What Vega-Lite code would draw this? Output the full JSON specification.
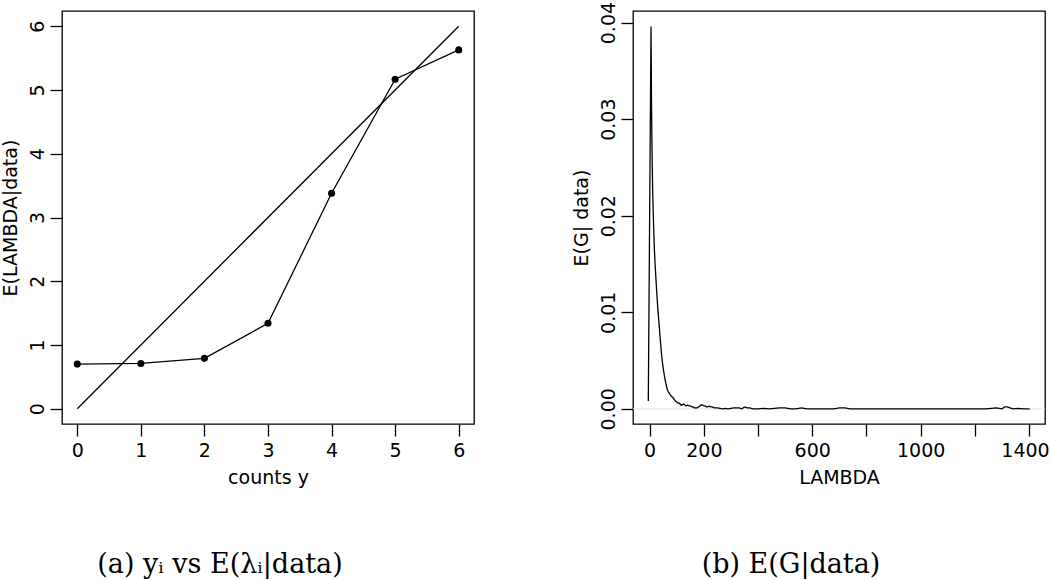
{
  "$schema": "https://vega.github.io/schema/vega-lite/v6.json",
  "background": "white",
  "padding": {"left": 0, "top": 0, "right": 5, "bottom": 0},
  "datasets": {
    "diag": [{"y": 0, "lambda": 0}, {"y": 6, "lambda": 6}],
    "means": [
      {"y": 0, "lambda": 0.70},
      {"y": 1, "lambda": 0.71},
      {"y": 2, "lambda": 0.79},
      {"y": 3, "lambda": 1.34},
      {"y": 4, "lambda": 3.38},
      {"y": 5, "lambda": 5.17},
      {"y": 6, "lambda": 5.63}
    ],
    "density": [
      {"lambda": -5, "g": 0.0008},
      {"lambda": 5, "g": 0.0396},
      {"lambda": 7, "g": 0.031},
      {"lambda": 9, "g": 0.0262},
      {"lambda": 11, "g": 0.0228},
      {"lambda": 14, "g": 0.0194},
      {"lambda": 17, "g": 0.0168},
      {"lambda": 20, "g": 0.0150},
      {"lambda": 26, "g": 0.0121},
      {"lambda": 30, "g": 0.0104},
      {"lambda": 35, "g": 0.0087},
      {"lambda": 40, "g": 0.0069},
      {"lambda": 45, "g": 0.0053},
      {"lambda": 50, "g": 0.0042},
      {"lambda": 55, "g": 0.0033},
      {"lambda": 60, "g": 0.0026},
      {"lambda": 65, "g": 0.0020},
      {"lambda": 70, "g": 0.0017},
      {"lambda": 75, "g": 0.0015},
      {"lambda": 80, "g": 0.0013},
      {"lambda": 85, "g": 0.0012},
      {"lambda": 90, "g": 0.0010},
      {"lambda": 95, "g": 0.0008},
      {"lambda": 100, "g": 0.0007},
      {"lambda": 105, "g": 0.0006},
      {"lambda": 110, "g": 0.0006},
      {"lambda": 115, "g": 0.0004},
      {"lambda": 120, "g": 0.0004},
      {"lambda": 125, "g": 0.0005},
      {"lambda": 130, "g": 0.0004},
      {"lambda": 135, "g": 0.0003},
      {"lambda": 140, "g": 0.0004},
      {"lambda": 145, "g": 0.0003},
      {"lambda": 150, "g": 0.0003},
      {"lambda": 155, "g": 0.0002},
      {"lambda": 160, "g": 0.0002},
      {"lambda": 165, "g": 0.0001},
      {"lambda": 170, "g": 0.0001},
      {"lambda": 175, "g": 0.0001},
      {"lambda": 180, "g": 0.0002},
      {"lambda": 185, "g": 0.0003},
      {"lambda": 190, "g": 0.0004},
      {"lambda": 195, "g": 0.0004},
      {"lambda": 200, "g": 0.0003},
      {"lambda": 205, "g": 0.0003},
      {"lambda": 210, "g": 0.0002},
      {"lambda": 215, "g": 0.0002},
      {"lambda": 220, "g": 0.0003},
      {"lambda": 225, "g": 0.0002},
      {"lambda": 230, "g": 0.0002},
      {"lambda": 240, "g": 0.0001},
      {"lambda": 250, "g": 0.0001},
      {"lambda": 260, "g": 0.00005},
      {"lambda": 270, "g": 0.0},
      {"lambda": 280, "g": 0.00005},
      {"lambda": 290, "g": 0.0},
      {"lambda": 300, "g": 0.00005},
      {"lambda": 310, "g": 0.0001},
      {"lambda": 320, "g": 0.0001},
      {"lambda": 330, "g": 0.0001},
      {"lambda": 340, "g": 0.0},
      {"lambda": 350, "g": 0.0002},
      {"lambda": 360, "g": 0.0001},
      {"lambda": 370, "g": 0.0001},
      {"lambda": 380, "g": 0.0},
      {"lambda": 400, "g": 0.0},
      {"lambda": 420, "g": 0.00005},
      {"lambda": 440, "g": 0.0},
      {"lambda": 460, "g": 0.00005},
      {"lambda": 480, "g": 0.0001},
      {"lambda": 500, "g": 0.0001},
      {"lambda": 520, "g": 0.0},
      {"lambda": 540, "g": 0.0},
      {"lambda": 560, "g": 0.0001},
      {"lambda": 580, "g": 0.0},
      {"lambda": 600, "g": 0.0},
      {"lambda": 640, "g": 0.0},
      {"lambda": 680, "g": 0.0},
      {"lambda": 700, "g": 0.0001},
      {"lambda": 720, "g": 0.0001},
      {"lambda": 740, "g": 0.0},
      {"lambda": 780, "g": 0.0},
      {"lambda": 820, "g": 0.0},
      {"lambda": 860, "g": 0.0},
      {"lambda": 900, "g": 0.0},
      {"lambda": 950, "g": 0.0},
      {"lambda": 1000, "g": 0.0},
      {"lambda": 1050, "g": 0.0},
      {"lambda": 1100, "g": 0.0},
      {"lambda": 1150, "g": 0.0},
      {"lambda": 1200, "g": 0.0},
      {"lambda": 1240, "g": 0.0},
      {"lambda": 1260, "g": 0.00005},
      {"lambda": 1280, "g": 0.0001},
      {"lambda": 1300, "g": 0.0},
      {"lambda": 1310, "g": 0.0002},
      {"lambda": 1320, "g": 0.0002},
      {"lambda": 1330, "g": 0.0001},
      {"lambda": 1340, "g": 0.0},
      {"lambda": 1360, "g": 0.00005},
      {"lambda": 1380, "g": 0.0},
      {"lambda": 1403, "g": 0.0}
    ]
  },
  "config": {
    "font": "DejaVu Sans",
    "view": {"stroke": "black", "strokeWidth": 1.3},
    "axis": {
      "domain": false,
      "grid": false,
      "ticks": true,
      "tickColor": "black",
      "tickWidth": 1.3,
      "tickSize": 12,
      "labelFont": "DejaVu Sans",
      "labelFontSize": 19,
      "labelColor": "black",
      "labelPadding": 4,
      "labelOverlap": false,
      "titleFont": "DejaVu Sans",
      "titleFontSize": 19,
      "titleFontWeight": "normal",
      "titleColor": "black"
    },
    "axisLeft": {"labelAngle": 270, "labelAlign": "center", "labelBaseline": "bottom", "titlePadding": 8, "labelPadding": 3},
    "axisBottom": {"titlePadding": 8, "labelPadding": 5}
  },
  "spacing": 96,
  "hconcat": [
    {
      "width": 412,
      "height": 413,
      "title": {
        "text": "(a) yᵢ vs E(λᵢ|data)",
        "orient": "bottom",
        "anchor": "middle",
        "font": "DejaVu Serif",
        "fontSize": 27,
        "fontWeight": "normal",
        "color": "black",
        "offset": 65,
        "dx": -48
      },
      "layer": [
        {
          "data": {"name": "diag"},
          "mark": {"type": "line", "color": "black", "strokeWidth": 1.3},
          "encoding": {
            "x": {"field": "y", "type": "quantitative", "scale": {"domain": [-0.24, 6.24], "nice": false, "zero": false}, "axis": {"values": [0, 1, 2, 3, 4, 5, 6], "format": "d", "title": "counts y"}},
            "y": {"field": "lambda", "type": "quantitative", "scale": {"domain": [-0.24, 6.24], "nice": false, "zero": false}, "axis": {"values": [0, 1, 2, 3, 4, 5, 6], "format": "d", "title": "E(LAMBDA|data)"}}
          }
        },
        {
          "data": {"name": "means"},
          "mark": {"type": "line", "color": "black", "strokeWidth": 1.3, "point": {"filled": true, "color": "black", "size": 50, "opacity": 1}},
          "encoding": {
            "x": {"field": "y", "type": "quantitative"},
            "y": {"field": "lambda", "type": "quantitative"}
          }
        }
      ]
    },
    {
      "width": 412,
      "height": 413,
      "title": {
        "text": "(b) E(G|data)",
        "orient": "bottom",
        "anchor": "middle",
        "font": "DejaVu Serif",
        "fontSize": 27,
        "fontWeight": "normal",
        "color": "black",
        "offset": 65,
        "dx": -48
      },
      "layer": [
        {
          "data": {"values": [{"level": 0}]},
          "mark": {"type": "rule", "color": "#e4e4e4", "strokeWidth": 1},
          "encoding": {"y": {"field": "level", "type": "quantitative"}}
        },
        {
          "data": {"name": "density"},
          "mark": {"type": "line", "color": "black", "strokeWidth": 1.3},
          "encoding": {
            "x": {"field": "lambda", "type": "quantitative", "scale": {"domain": [-61.5, 1459], "nice": false, "zero": false}, "axis": {"values": [0, 200, 400, 600, 800, 1000, 1200, 1400], "format": "d", "labelExpr": "datum.value == 400 || datum.value == 800 || datum.value == 1200 ? '' : datum.label", "labelOffset": {"condition": {"test": "datum.value == 1400", "value": -4}, "value": 0}, "title": "LAMBDA"}},
            "y": {"field": "g", "type": "quantitative", "scale": {"domain": [-0.00157, 0.0412], "nice": false, "zero": false}, "axis": {"values": [0, 0.01, 0.02, 0.03, 0.04], "format": ".2f", "title": "E(G| data)"}}
          }
        }
      ]
    }
  ]
}
